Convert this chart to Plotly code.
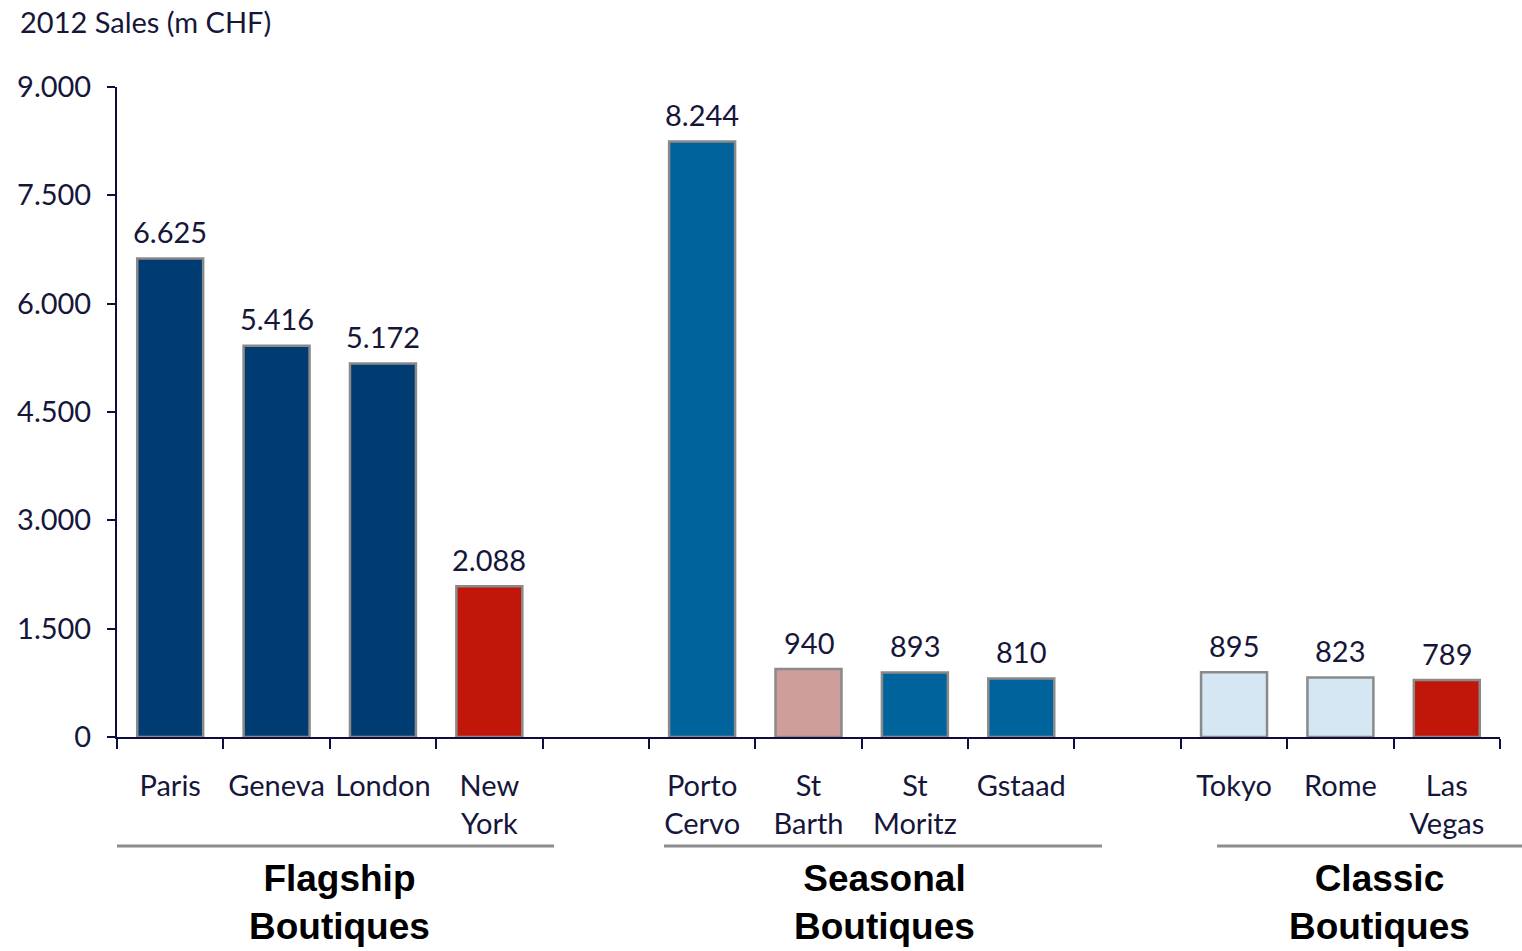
import plotly.graph_objects as go

categories = ["Paris", "Geneva", "London", "New York", "gap1",
              "Porto Cervo", "St Barth", "St Moritz", "Gstaad", "gap2",
              "Tokyo", "Rome", "Las Vegas"]
tick_labels = ["Paris", "Geneva", "London", "New<br>York", "",
               "Porto<br>Cervo", "St<br>Barth", "St<br>Moritz", "Gstaad", "",
               "Tokyo", "Rome", "Las<br>Vegas"]
sales = [6625, 5416, 5172, 2088, None, 8244, 940, 893, 810, None, 895, 823, 789]
colors = ["#003B72", "#003B72", "#003B72", "#C0170A", "#FFFFFF",
          "#00639C", "#CE9E9B", "#00639C", "#00639C", "#FFFFFF",
          "#D4E7F3", "#D4E7F3", "#C0170A"]
y_ticks = [0, 1500, 3000, 4500, 6000, 7500, 9000]
groups = ["Flagship<br>Boutiques", "Seasonal<br>Boutiques", "Classic<br>Boutiques"]
group_centers = [0.161, 0.555, 0.913]
group_lines = [(0.0, 0.316), (0.3955, 0.7122), (0.7954, 1.02)]

TXT = "#16163A"
LABEL_FONT = dict(family="Lato", size=29, color=TXT)

fig = go.Figure()
fig.add_trace(go.Bar(
    x=categories, y=sales,
    marker=dict(color=colors, line=dict(color="#8A8A8A", width=2.5)),
    width=0.62,
    hoverinfo="skip",
))

# value labels above bars
for c, v in zip(categories, sales):
    if v is None:
        continue
    fig.add_annotation(x=c, y=v, xref="x", yref="y", text=f"{v:,}".replace(",", "."),
                       showarrow=False, yanchor="middle", yshift=27,
                       font=LABEL_FONT)

fig.update_layout(
    width=1522, height=951,
    margin=dict(l=117, r=22, t=87, b=214),
    plot_bgcolor="white", paper_bgcolor="white",
    separators=",.",
    showlegend=False,
    font=LABEL_FONT,
)
fig.update_xaxes(
    type="category", categoryorder="array", categoryarray=categories,
    tickvals=categories, ticktext=tick_labels, tickangle=0, automargin=False,
    tickson="boundaries", ticks="outside", ticklen=10, tickwidth=2, tickcolor="#0E0E3C",
    showline=True, linecolor="#0E0E3C", linewidth=2,
    showgrid=False, tickfont=LABEL_FONT, ticklabelstandoff=22,
    range=[-0.5, 12.5],
)
fig.update_yaxes(
    range=[0, 9000], tickvals=y_ticks, tickformat=",", automargin=False,
    ticks="outside", ticklen=8, tickwidth=2, tickcolor="#0E0E3C",
    showline=True, linecolor="#0E0E3C", linewidth=2,
    showgrid=False, zeroline=False, tickfont=LABEL_FONT, ticklabelstandoff=10,
)

fig.add_annotation(text="2012 Sales (m CHF)", xref="paper", yref="paper",
                   x=-0.0716, y=1.1, xanchor="left", yanchor="middle",
                   showarrow=False, font=dict(family="Lato", size=29, color=TXT))

for (x0, x1) in group_lines:
    fig.add_shape(type="line", xref="paper", yref="paper", x0=x0, x1=x1,
                  y0=-0.1677, y1=-0.1677, line=dict(color="#8C8C8C", width=3))

for g, cx in zip(groups, group_centers):
    fig.add_annotation(text="<b>%s</b>" % g, xref="paper", yref="paper",
                       x=cx, y=-0.255, xanchor="center", yanchor="middle",
                       showarrow=False,
                       font=dict(family="Liberation Sans", size=37, color="#000000"))

fig.write_html("out.html")
